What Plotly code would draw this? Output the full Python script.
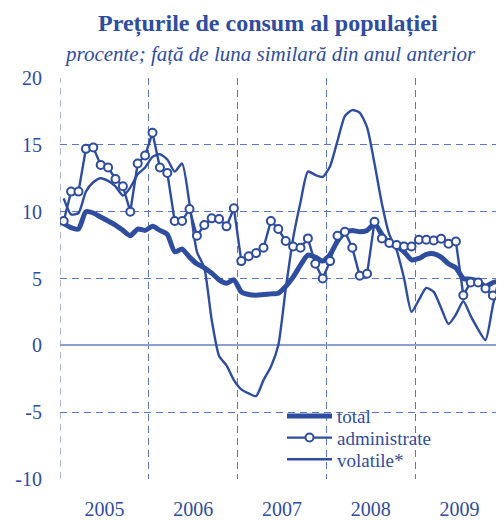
import plotly.graph_objects as go

years = [2005, 2006, 2007, 2008, 2009]
year_labels = ["2005", "2006", "2007", "2008", "2009"]
y_ticks = [-10, -5, 0, 5, 10, 15, 20]
y_tick_labels = ["-10", "-5", "0", "5", "10", "15", "20"]

total = [
    9.1, 8.8, 8.7, 10.0, 9.9, 9.6, 9.3, 9.0, 8.6, 8.2, 8.7, 8.6,
    8.9, 8.6, 8.3, 7.0, 7.2, 6.6, 6.1, 5.8, 5.4, 4.9, 4.65, 4.9,
    4.0, 3.8, 3.75, 3.8, 3.85, 3.9, 4.4, 5.1, 6.0, 6.75, 6.6, 6.3,
    6.8, 7.8, 8.45, 8.6, 8.5, 8.6, 9.1, 8.3, 7.6, 7.4, 7.0, 6.4,
    6.5, 6.8, 6.85, 6.6, 6.1, 5.8, 5.0, 4.95, 4.8, 4.4, 4.7, 4.8,
]

administrate = [
    9.3, 11.5, 11.5, 14.7, 14.8, 13.5, 13.3, 12.45, 11.9, 10.0, 13.6, 14.2,
    15.9, 13.3, 12.9, 9.3, 9.3, 10.2, 8.2, 9.0, 9.5, 9.45, 8.9, 10.25,
    6.3, 6.67, 6.9, 7.3, 9.3, 8.7, 7.8, 7.4, 7.3, 8.0, 6.1, 5.0,
    6.3, 8.2, 8.5, 7.3, 5.2, 5.35, 9.24, 8.0, 7.65, 7.5, 7.4, 7.4,
    7.9, 7.9, 7.85, 7.97, 7.6, 7.77, 3.75, 4.7, 4.7, 4.25, 3.73, 3.5,
]

volatile = [
    11.0, 9.8, 9.9, 11.5, 12.2, 12.5, 12.3, 11.9, 11.2, 11.8, 12.8, 13.3,
    14.1, 14.3, 13.9, 13.0, 13.6, 10.6, 7.0, 5.8, 1.9, -0.8, -1.5, -2.6,
    -3.3, -3.6, -3.8, -2.6, -1.6, 0.0, 4.2, 8.0, 10.7, 13.0, 12.75, 12.6,
    13.4, 15.3, 17.15, 17.6, 17.4, 16.3, 13.6, 10.6, 8.3, 7.1, 5.0, 2.5,
    3.4, 4.3, 4.0, 2.8, 1.6, 2.3, 3.3, 2.2, 1.2, 0.4, 3.0, 5.4,
]

x = [y + (m + 0.5) / 12 for y in years for m in range(12)]

BLUE = "#2F4D9E"
GRID = "#5C77C2"
FONT = "Liberation Serif"
DASH = "7px,5px"

fig = go.Figure()
fig.add_trace(go.Scatter(
    x=x, y=volatile, name="volatile*", mode="lines",
    line=dict(color=BLUE, width=2.4, shape="spline", smoothing=0.6),
    legend="legend3",
))
fig.add_trace(go.Scatter(
    x=x, y=total, name="total", mode="lines",
    line=dict(color=BLUE, width=5, shape="spline", smoothing=0.6),
    legend="legend",
))
fig.add_trace(go.Scatter(
    x=x, y=administrate, name="administrate", mode="lines+markers",
    line=dict(color=BLUE, width=2.4),
    marker=dict(symbol="circle", size=8, color="white",
                line=dict(color=BLUE, width=2)),
    legend="legend2",
))

# left-edge dashed grid line (year boundary 2005)
fig.add_shape(type="line", xref="x", yref="paper",
              x0=years[0], x1=years[0], y0=0, y1=1,
              line=dict(color=GRID, width=1, dash=DASH), layer="between")

# white legend background box (between gridlines and traces)
fig.add_shape(type="rect", xref="paper", yref="paper",
              x0=0.401, x1=0.968, y0=0.0147, y1=0.179,
              fillcolor="white", line=dict(width=0), layer="between")

leg_common = dict(xanchor="left", yanchor="middle", bgcolor="rgba(0,0,0,0)",
                  font=dict(family=FONT, size=19, color=BLUE),
                  itemwidth=45, borderwidth=0)
fig.update_layout(
    legend=dict(x=0.50, y=0.1569, **leg_common),
    legend2=dict(x=0.50, y=0.1029, **leg_common),
    legend3=dict(x=0.50, y=0.0490, **leg_common),
)

fig.add_annotation(text="<b>Prețurile de consum al populației</b>",
                   xref="paper", yref="paper", x=0.468, y=1.137,
                   xanchor="center", yanchor="middle", showarrow=False,
                   font=dict(family=FONT, size=24, color=BLUE))
fig.add_annotation(text="<i>procente; față de luna similară din anul anterior</i>",
                   xref="paper", yref="paper", x=0.474, y=1.061,
                   xanchor="center", yanchor="middle", showarrow=False,
                   font=dict(family=FONT, size=21, color=BLUE))

fig.update_layout(
    width=496, height=512,
    margin=dict(l=52, r=0, t=70, b=34),
    paper_bgcolor="white", plot_bgcolor="white",
    showlegend=True,
    font=dict(family=FONT, size=20, color=BLUE),
    xaxis=dict(
        range=[2005, 2010],
        tickvals=[y + 0.5 for y in years], ticktext=year_labels,
        showgrid=False, zeroline=False, showline=False,
        ticks="outside", ticklen=12, tickcolor="rgba(0,0,0,0)",
        tickfont=dict(family=FONT, size=20, color=BLUE),
        minor=dict(tick0=2005, dtick=1, showgrid=True, gridcolor=GRID,
                   gridwidth=1, griddash=DASH),
    ),
    yaxis=dict(
        range=[-10, 20],
        tickvals=y_ticks, ticktext=y_tick_labels,
        showgrid=True, gridcolor=GRID, gridwidth=1, griddash=DASH,
        zeroline=True, zerolinecolor="#8C9ECF", zerolinewidth=1.6,
        showline=False,
        ticks="outside", ticklen=13, tickcolor="rgba(0,0,0,0)",
        tickfont=dict(family=FONT, size=20, color=BLUE),
    ),
)

fig.write_html("out.html")
